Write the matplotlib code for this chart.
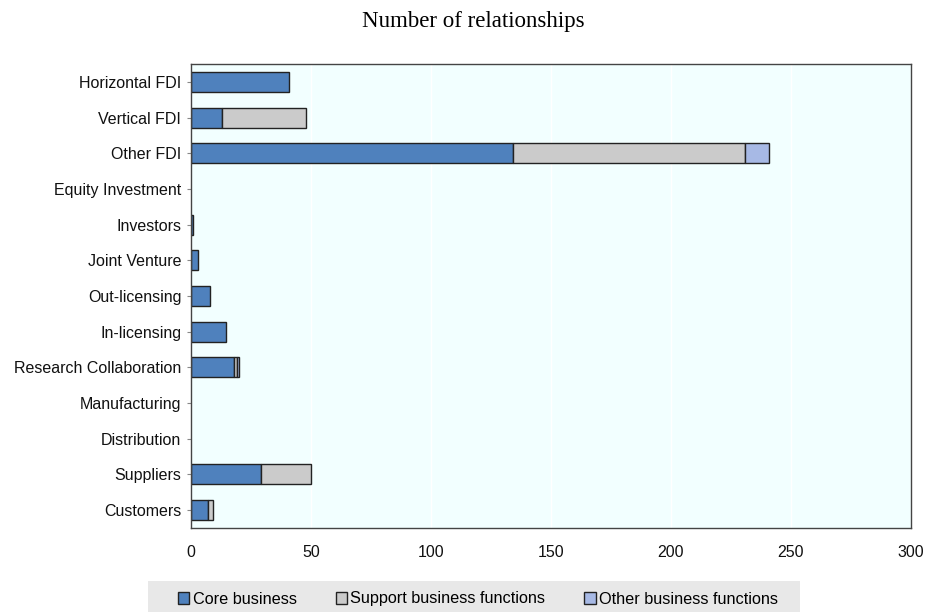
import matplotlib
matplotlib.use("Agg")
import matplotlib.pyplot as plt
import numpy as np

categories = ["Horizontal FDI", "Vertical FDI", "Other FDI", "Equity Investment",
              "Investors", "Joint Venture", "Out-licensing", "In-licensing",
              "Research Collaboration", "Manufacturing", "Distribution",
              "Suppliers", "Customers"]
core = [41, 13, 134, 0, 1, 3, 8, 14.5, 18, 0, 0, 29, 7]
support = [0, 35, 97, 0, 0, 0, 0, 0, 1, 0, 0, 21, 2]
other = [0, 0, 10, 0, 0, 0, 0, 0, 1, 0, 0, 0, 0]
series_names = ["Core business", "Support business functions", "Other business functions"]
xticks = [0, 50, 100, 150, 200, 250, 300]

colors = ["#4F81BD", "#CBCBCB", "#A7B9E5"]

plt.rcParams['font.family'] = ['Liberation Sans', 'DejaVu Sans']
fig = plt.figure(figsize=(9.28, 6.12), dpi=100)
ax = fig.add_axes([191/928, 1-528/612, (911-191)/928, (528-64)/612])
ax.set_facecolor("#F2FFFF")

y = np.arange(len(categories))
h = 0.56
core_a = np.array(core, float)
sup_a = np.array(support, float)
oth_a = np.array(other, float)
def draw(vals, left, col, name):
    mask = vals > 0
    ax.barh(y[mask], vals[mask], left=left[mask], height=h, color=col,
            edgecolor="#222222", linewidth=1.0, label=name)
draw(core_a, np.zeros_like(core_a), colors[0], series_names[0])
draw(sup_a, core_a, colors[1], series_names[1])
draw(oth_a, core_a + sup_a, colors[2], series_names[2])

ax.set_ylim(len(categories) - 0.5, -0.5)
ax.set_yticks(y)
ax.set_yticklabels(categories, fontsize=11.5, color="#111111")
ax.set_xlim(0, 300)
ax.set_xticks(xticks)
ax.set_xticklabels([str(t) for t in xticks], fontsize=11.5, color="#111111")
ax.tick_params(axis='x', length=0, pad=12)
ax.tick_params(axis='y', length=3, color="#888888", pad=4)
ax.grid(axis='x', color="white", linewidth=1.0)
ax.set_axisbelow(True)
for s in ax.spines.values():
    s.set_color("#444444")
    s.set_linewidth(1.0)

fig.text(473/928, 1-22/612, "Number of relationships", ha="center", va="center",
         fontsize=16.5, family=["Liberation Serif", "DejaVu Serif"])

# legend background
from matplotlib.patches import Rectangle
fig.patches.append(Rectangle((148/928, 0), (800-148)/928, 31/612,
                             transform=fig.transFigure, facecolor="#E8E8E8",
                             edgecolor="none", zorder=0))
handles, labels = ax.get_legend_handles_labels()
leg = fig.legend(handles, labels, loc="center", bbox_to_anchor=(478/928, 1-599/612),
                 ncol=3, frameon=False, fontsize=11.7, handlelength=0.7,
                 handleheight=0.7, handletextpad=0.2, columnspacing=2.4)

fig.savefig("out.png", dpi=100)
